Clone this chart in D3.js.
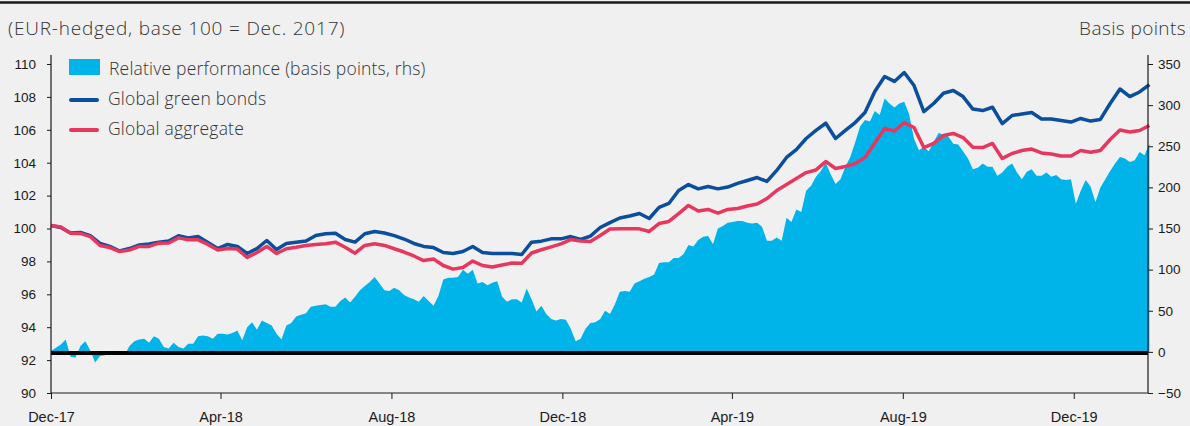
<!DOCTYPE html>
<html>
<head>
<meta charset="utf-8">
<script src="https://cdn.jsdelivr.net/npm/d3@7"></script>
<style>
  html, body { margin: 0; padding: 0; background: #f0f0f0; }
  svg { display: block; font-family: 'Open Sans', sans-serif; }
  .axis text { font-size: 13.5px; fill: #1a1a1a; }
  .axis line { stroke: #1a1a1a; }
  .xaxis text { font-size: 14.5px; }
</style>
</head>
<body>
<div id="chart"></div>
<script>
// weekly observations for the index lines, first one = 29 Dec 2017 (base 100)
const startDate = new Date(2017, 11, 29);
const endDate = new Date(2020, 1, 20);

const greenBonds = [
  100.18, 100.06, 99.73, 99.76, 99.57, 99.09, 98.91, 98.63, 98.78, 99.00,
  99.06, 99.17, 99.24, 99.56, 99.43, 99.51, 99.15, 98.78, 99.03, 98.91,
  98.48, 98.78, 99.27, 98.72, 99.09, 99.17, 99.24, 99.57, 99.68, 99.71,
  99.33, 99.17, 99.68, 99.82, 99.73, 99.57, 99.36, 99.09, 98.91, 98.84,
  98.54, 98.48, 98.60, 98.91, 98.54, 98.48, 98.48, 98.48, 98.42, 99.17,
  99.23, 99.37, 99.37, 99.51, 99.33, 99.54, 100.06, 100.36, 100.64, 100.76,
  100.91, 100.61, 101.28, 101.52, 102.31, 102.67, 102.41, 102.55, 102.41, 102.52,
  102.74, 102.92, 103.10, 102.86, 103.53, 104.32, 104.80, 105.47, 105.96, 106.40,
  105.47, 105.96, 106.44, 107.05, 108.33, 109.24, 108.94, 109.48, 108.69, 107.11,
  107.60, 108.22, 108.39, 108.02, 107.26, 107.17, 107.37, 106.38, 106.87, 106.96,
  107.05, 106.66, 106.66, 106.57, 106.47, 106.69, 106.53, 106.63, 107.60, 108.48,
  108.02, 108.30, 108.75
];

const globalAggregate = [
  100.18, 100.09, 99.71, 99.70, 99.51, 98.97, 98.84, 98.60, 98.69, 98.91,
  98.91, 99.11, 99.12, 99.43, 99.31, 99.31, 99.03, 98.69, 98.78, 98.75,
  98.24, 98.54, 98.91, 98.48, 98.77, 98.86, 98.97, 99.03, 99.07, 99.17,
  98.86, 98.50, 98.97, 99.07, 98.97, 98.77, 98.57, 98.33, 98.05, 98.15,
  97.75, 97.53, 97.63, 98.02, 97.75, 97.66, 97.78, 97.90, 97.89, 98.51,
  98.71, 98.88, 99.07, 99.33, 99.24, 99.21, 99.57, 99.97, 99.98, 99.98,
  99.98, 99.82, 100.30, 100.43, 100.91, 101.40, 101.06, 101.16, 100.94, 101.16,
  101.22, 101.37, 101.49, 101.82, 102.31, 102.67, 103.04, 103.40, 103.56, 104.07,
  103.65, 103.77, 103.95, 104.32, 105.20, 106.08, 105.93, 106.44, 106.14, 104.92,
  105.17, 105.65, 105.78, 105.53, 104.94, 104.92, 105.17, 104.26, 104.56, 104.74,
  104.83, 104.59, 104.53, 104.41, 104.41, 104.74, 104.64, 104.74, 105.41, 105.99,
  105.87, 105.96, 106.26
];

// basis points (rhs), twice-weekly observations
const relativePerf = [
  1, 5, 9, 15, -6, -7, 7, 13, 2, -13, -5, -4, -2, 0, -2, -4, 7, 13, 15, 16,
  11, 19, 16, 6, 4, 11, 6, 4, 10, 10, 19, 20, 19, 16, 22, 22, 21, 23, 26, 14,
  30, 36, 27, 38, 35, 32, 22, 15, 32, 35, 43, 45, 47, 55, 56, 57, 58, 55, 55, 62,
  66, 60, 67, 75, 80, 85, 91, 83, 75, 74, 78, 75, 69, 66, 64, 61, 68, 62, 56, 68,
  88, 90, 90, 91, 100, 95, 100, 83, 85, 81, 84, 86, 67, 61, 64, 64, 60, 77, 64, 49,
  56, 46, 40, 38, 40, 39, 28, 13, 16, 28, 35, 36, 40, 50, 46, 58, 73, 74, 73, 83,
  86, 89, 91, 94, 108, 109, 109, 114, 114, 119, 130, 128, 136, 140, 141, 131, 150, 153, 157, 158,
  159, 159, 157, 156, 157, 152, 135, 135, 139, 135, 163, 158, 173, 170, 196, 202, 213, 220, 230, 216,
  204, 210, 225, 237, 255, 274, 282, 280, 293, 288, 308, 302, 297, 302, 304, 289, 259, 245, 249, 244,
  255, 266, 264, 262, 253, 252, 244, 235, 222, 224, 229, 225, 225, 214, 218, 225, 229, 218, 210, 219,
  222, 214, 214, 218, 213, 215, 210, 209, 210, 180, 196, 209, 201, 182, 200, 210, 220, 229, 237, 235,
  231, 233, 243, 239, 253
];

const leftTicks = [90, 92, 94, 96, 98, 100, 102, 104, 106, 108, 110];
const rightTicks = [-50, 0, 50, 100, 150, 200, 250, 300, 350];
const xTickLabels = ['Dec-17', 'Apr-18', 'Aug-18', 'Dec-18', 'Apr-19', 'Aug-19', 'Dec-19'];

const seriesNames = ['Relative performance (basis points, rhs)', 'Global green bonds', 'Global aggregate'];
const colors = { rel: '#00b4ea', green: '#0a4e9c', agg: '#e8375e' };

const width = 1190;
const height = 426;
const margin = { top: 64, right: 42, bottom: 33, left: 51 };

const dates = greenBonds.map((d, i) => d3.timeDay.offset(startDate, 7 * i));
const relDates = relativePerf.map((d, i) => d3.timeHour.offset(startDate, 84 * i));
const tickDates = xTickLabels.map((d, i) => d3.timeMonth.offset(startDate, 4 * i));

const svg = d3.select('#chart')
  .append('svg')
  .attr('width', width)
  .attr('height', height);

const x = d3.scaleTime()
  .domain([startDate, endDate])
  .range([margin.left, width - margin.right]);

const yL = d3.scaleLinear()
  .domain([90, 110])
  .range([height - margin.bottom, margin.top]);

const yR = d3.scaleLinear()
  .domain([-50, 350])
  .range([height - margin.bottom, margin.top]);

// top rule
svg.append('line')
  .attr('x1', 0).attr('x2', width)
  .attr('y1', 2.5).attr('y2', 2.5)
  .attr('stroke', '#1a1a1a')
  .attr('stroke-width', 2.5);

// titles
svg.append('text')
  .attr('x', 8).attr('y', 35)
  .attr('font-size', 19)
  .attr('font-weight', 300)
  .attr('letter-spacing', 0.8)
  .attr('fill', '#333')
  .text('(EUR-hedged, base 100 = Dec. 2017)');

svg.append('text')
  .attr('x', width - 4).attr('y', 35)
  .attr('text-anchor', 'end')
  .attr('font-size', 19)
  .attr('font-weight', 300)
  .attr('letter-spacing', 0.4)
  .attr('fill', '#333')
  .text('Basis points');

// relative performance area
const area = d3.area()
  .x((d, i) => x(relDates[i]))
  .y0(yR(0))
  .y1(d => yR(d));

svg.append('path')
  .datum(relativePerf)
  .attr('fill', colors.rel)
  .attr('d', area);

// zero line of the rhs scale
svg.append('line')
  .attr('x1', x(startDate)).attr('x2', x(endDate))
  .attr('y1', yR(0) + 1).attr('y2', yR(0) + 1)
  .attr('stroke', '#000')
  .attr('stroke-width', 4);

const line = d3.line()
  .x((d, i) => x(dates[i]))
  .y(d => yL(d));

svg.append('path')
  .datum(greenBonds)
  .attr('fill', 'none')
  .attr('stroke', colors.green)
  .attr('stroke-width', 3.5)
  .attr('stroke-linejoin', 'round')
  .attr('d', line);

svg.append('path')
  .datum(globalAggregate)
  .attr('fill', 'none')
  .attr('stroke', colors.agg)
  .attr('stroke-width', 3.5)
  .attr('stroke-linejoin', 'round')
  .attr('d', line);

// axes
svg.append('g')
  .attr('class', 'axis')
  .attr('transform', 'translate(' + margin.left + ',0)')
  .call(d3.axisLeft(yL).tickValues(leftTicks).tickSize(4).tickPadding(11).tickSizeOuter(0))
  .call(g => g.select('.domain').remove());

svg.append('g')
  .attr('class', 'axis')
  .attr('transform', 'translate(' + (width - margin.right) + ',0)')
  .call(d3.axisRight(yR).tickValues(rightTicks).tickSize(5).tickPadding(5).tickSizeOuter(0))
  .call(g => g.select('.domain').remove());

svg.append('g')
  .attr('class', 'axis xaxis')
  .attr('transform', 'translate(0,' + (height - margin.bottom) + ')')
  .call(d3.axisBottom(x).tickValues(tickDates).tickSize(6).tickPadding(13)
    .tickFormat((d, i) => xTickLabels[i]).tickSizeOuter(0))
  .call(g => g.select('.domain').remove());

// axis frame lines
const axisTop = margin.top - 9;
svg.append('g')
  .attr('stroke', '#1a1a1a')
  .attr('stroke-width', 1.2)
  .call(g => {
    g.append('line').attr('x1', margin.left).attr('x2', margin.left)
      .attr('y1', axisTop).attr('y2', height - margin.bottom);
    g.append('line').attr('x1', width - margin.right).attr('x2', width - margin.right)
      .attr('y1', axisTop).attr('y2', height - margin.bottom);
    g.append('line').attr('x1', margin.left).attr('x2', width - margin.right)
      .attr('y1', height - margin.bottom).attr('y2', height - margin.bottom);
  });

// legend
const legend = svg.append('g')
  .attr('font-size', 17.5)
  .attr('font-weight', 300)
  .attr('letter-spacing', 0.2)
  .attr('fill', '#333');

legend.append('rect')
  .attr('x', 69).attr('y', 59)
  .attr('width', 31).attr('height', 16)
  .attr('fill', colors.rel);
legend.append('text').attr('x', 109).attr('y', 75).text(seriesNames[0]);

legend.append('line')
  .attr('x1', 71).attr('x2', 97)
  .attr('y1', 100).attr('y2', 100)
  .attr('stroke', colors.green).attr('stroke-width', 4).attr('stroke-linecap', 'round');
legend.append('text').attr('x', 108).attr('y', 105).text(seriesNames[1]);

legend.append('line')
  .attr('x1', 71).attr('x2', 97)
  .attr('y1', 130).attr('y2', 130)
  .attr('stroke', colors.agg).attr('stroke-width', 4).attr('stroke-linecap', 'round');
legend.append('text').attr('x', 108).attr('y', 135).text(seriesNames[2]);
</script>
</body>
</html>
